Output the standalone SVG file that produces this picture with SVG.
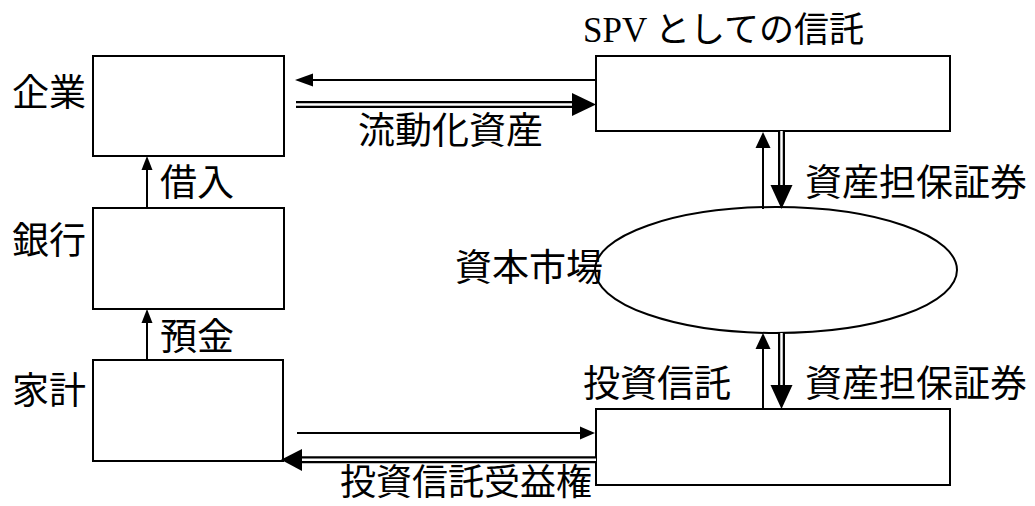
<svg xmlns="http://www.w3.org/2000/svg" width="1035" height="506" viewBox="0 0 1035 506">
<style>
.box{fill:#fff;stroke:#000;stroke-width:2}
.ln{stroke:#000;stroke-width:2;fill:none}
.dbo{stroke:#000;stroke-width:7;fill:none}
.dbi{stroke:#fff;stroke-width:2.5;fill:none}
.hd{fill:#000;stroke:none}
text{font-family:"Noto Sans CJK JP","Noto Sans",sans-serif;font-size:37px;fill:#000}
.ser{font-family:"Liberation Serif",serif}
</style>
<rect width="1035" height="506" fill="#fff"/>
<g id="kigyo"><rect class="box" x="93" y="56" width="191" height="100"/><text x="12" y="106">企業</text></g>
<g id="ginko"><rect class="box" x="93" y="208" width="191" height="101"/><text x="12" y="254">銀行</text></g>
<g id="kakei"><rect class="box" x="93" y="360" width="190" height="101"/><text x="12" y="404">家計</text></g>
<g id="spv"><rect class="box" x="596" y="56" width="354" height="75"/><text x="583" y="42" style="font-size:35px"><tspan class="ser">SPV</tspan> としての信託</text></g>
<g id="toshin"><rect class="box" x="596" y="409" width="354" height="76"/><text x="583" y="397">投資信託</text></g>
<g id="market"><ellipse class="box" cx="776" cy="270" rx="181" ry="63"/><text x="455" y="281">資本市場</text></g>
<g id="connectors">
<line class="ln" x1="147" y1="208" x2="147" y2="166"/><polygon class="hd" points="147,156 141.5,170 152.5,170"/>
<text x="160" y="196">借入</text>
<line class="ln" x1="147" y1="360" x2="147" y2="318"/><polygon class="hd" points="147,309 141.5,323 152.5,323"/>
<text x="160" y="350">預金</text>
<line class="ln" x1="596" y1="80" x2="305" y2="80"/><polygon class="hd" points="295,80 313,73.5 313,86.5"/>
<line class="dbo" x1="296" y1="104.5" x2="576" y2="104.5"/><line class="dbi" x1="296" y1="104.5" x2="576" y2="104.5"/><polygon class="hd" points="596,104.5 572,93 572,116"/>
<text x="358" y="144">流動化資産</text>
<line class="ln" x1="763" y1="209" x2="763" y2="142"/><polygon class="hd" points="763,132 755.5,148 770.5,148"/>
<line class="dbo" x1="781.5" y1="131" x2="781.5" y2="190"/><line class="dbi" x1="781.5" y1="131" x2="781.5" y2="190"/><polygon class="hd" points="781.5,209 770.5,185 792.5,185"/>
<text x="805" y="196">資産担保証券</text>
<line class="ln" x1="763" y1="409" x2="763" y2="343"/><polygon class="hd" points="763,333 755.5,349 770.5,349"/>
<line class="dbo" x1="781.5" y1="333" x2="781.5" y2="390"/><line class="dbi" x1="781.5" y1="333" x2="781.5" y2="390"/><polygon class="hd" points="781.5,409 770.5,385 792.5,385"/>
<text x="805" y="397">資産担保証券</text>
<line class="ln" x1="297" y1="433" x2="585" y2="433"/><polygon class="hd" points="595,433 580,426.5 580,439.5"/>
<line class="dbo" x1="596" y1="459.7" x2="298" y2="459.7"/><line class="dbi" x1="596" y1="459.7" x2="298" y2="459.7"/><polygon class="hd" points="281,459.7 302,449 302,471"/>
<text x="340" y="495" style="font-size:36px">投資信託受益権</text>
</g>
</svg>
